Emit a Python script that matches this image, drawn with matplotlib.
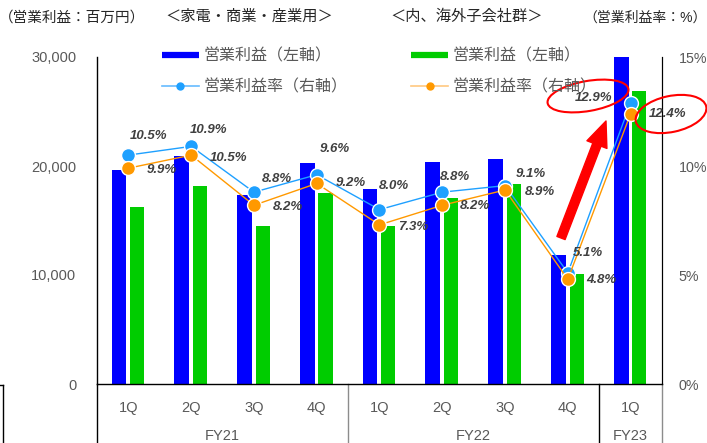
import matplotlib
matplotlib.use('Agg')
import matplotlib.pyplot as plt
import matplotlib.transforms as mtransforms
from matplotlib.patches import Ellipse
from matplotlib.lines import Line2D
import numpy as np

plt.rcParams['font.family'] = ['Liberation Sans', 'Noto Sans CJK JP', 'DejaVu Sans']

# ---- data ----
quarters = ['1Q', '2Q', '3Q', '4Q', '1Q', '2Q', '3Q', '4Q', '1Q']
fiscal_years = ['FY21', 'FY22', 'FY23']
fy_first = [0, 4, 8]
fy_last = [3, 7, 8]
profit_total = [19600, 20900, 17350, 20250, 17850, 20350, 20600, 11850, 30000]
profit_overseas = [16250, 18150, 14500, 17550, 14450, 17100, 18350, 10100, 26900]
margin_total = [10.5, 10.9, 8.8, 9.6, 8.0, 8.8, 9.1, 5.1, 12.9]
margin_overseas = [9.9, 10.5, 8.2, 9.2, 7.3, 8.2, 8.9, 4.8, 12.4]
left_ticks = [0, 10000, 20000, 30000]
right_ticks = [0, 5, 10, 15]

# label offsets (pixels)
off_total = [(20, 19), (17, 16), (23, 13), (18, 26), (14, 24), (13, 15), (26, 12), (20, 20), (-37, 5)]
off_overseas = [(33, -2), (37, -3), (34, -2), (34, 0), (34, -2), (33, -1), (35, -2), (33, -1), (37, 0)]

W, H = 707, 443
fig = plt.figure(figsize=(W / 100, H / 100), dpi=100)
ax = fig.add_axes([97 / W, 59 / H, 565 / W, 327 / H])
ax2 = ax.twinx()

x = np.arange(len(quarters))
BLUE = '#0000FF'
GREEN = '#00CC00'
LBLUE = '#1EA0FF'
ORANGE = '#FF9900'
GRAYTXT = '#595959'

ax.bar(x - 0.15, profit_total, width=0.235, color=BLUE, zorder=2)
ax.bar(x + 0.14, profit_overseas, width=0.225, color=GREEN, zorder=2)
ax.set_xlim(-0.5, len(quarters) - 0.5)
ax.set_ylim(0, 30000)
ax.set_yticks(left_ticks)
ax.set_yticklabels([f'{v:,}' for v in left_ticks])
ax.set_xticks(x)
ax.set_xticklabels(quarters)
ax.tick_params(axis='both', length=0, labelsize=10.5, labelcolor=GRAYTXT)
ax.tick_params(axis='y', pad=15)
ax.tick_params(axis='x', pad=12)

ax2.plot(x, margin_total, color=LBLUE, lw=1, marker='o', ms=10, mfc=LBLUE, mec='white', mew=1, zorder=3)
ax2.plot(x, margin_overseas, color=ORANGE, lw=1, marker='o', ms=10, mfc=ORANGE, mec='white', mew=1, zorder=4)
ax2.set_ylim(0, 15)
ax2.set_yticks(right_ticks)
ax2.set_yticklabels([f'{v}%' for v in right_ticks])
ax2.tick_params(axis='y', length=0, pad=12, labelsize=10.3, labelcolor=GRAYTXT)

lab_kw = dict(textcoords='offset pixels', ha='center', va='center', fontsize=9.5,
              fontweight='bold', style='italic', color='#404040', family='Liberation Sans', zorder=6)
for i, v in enumerate(margin_total):
    ax2.annotate(f'{v:.1f}%', (x[i], v), xytext=off_total[i], **lab_kw)
for i, v in enumerate(margin_overseas):
    ax2.annotate(f'{v:.1f}%', (x[i], v), xytext=off_overseas[i], **lab_kw)

for a in (ax, ax2):
    a.spines['top'].set_visible(False)
for s in ('left', 'bottom'):
    ax.spines[s].set_color('black')
    ax.spines[s].set_linewidth(1)
ax2.spines['right'].set_color('black')
ax2.spines['left'].set_visible(False)
ax2.spines['bottom'].set_visible(False)

# category group separators below axis
tr = ax.get_xaxis_transform()
ybot = -59 / 327
for xs, c in [(-0.5, 'black'), (3.5, '#8c8c8c'), (7.5, 'black'), (8.5, '#8c8c8c')]:
    ax.plot([xs, xs], [0, ybot], color=c, lw=1, transform=tr, clip_on=False)
for name, a0, a1 in zip(fiscal_years, fy_first, fy_last):
    ax.text((a0 + a1) / 2, -52 / 327, name, transform=tr, ha='center', va='center',
            fontsize=10.5, color=GRAYTXT)

# stray box edge bottom-left
fig.add_artist(Line2D([0, 3 / W], [58 / H, 58 / H], color='black', lw=1))
fig.add_artist(Line2D([3 / W, 3 / W], [58 / H, 0], color='black', lw=1))

# header texts
def ftext(px, py, s, size=10.5):
    fig.text(px / W, 1 - py / H, s, ha='center', va='center', fontsize=size, color='#262626')

ftext(72, 18, '（営業利益：百万円）')
ftext(249, 17, '＜家電・商業・産業用＞', 11)
ftext(467, 17, '＜内、海外子会社群＞', 11)
ftext(645, 18, '（営業利益率：%）', 10)

# legend
handles = [
    Line2D([], [], color=BLUE, lw=4.5, solid_capstyle='butt'),
    Line2D([], [], color='#66BBFF', lw=1.2, marker='o', ms=5, mfc=LBLUE, mec=LBLUE),
    Line2D([], [], color=GREEN, lw=4.5, solid_capstyle='butt'),
    Line2D([], [], color='#FFC880', lw=1.2, marker='o', ms=5, mfc=ORANGE, mec=ORANGE),
]
labels = ['営業利益（左軸）', '営業利益率（右軸）', '営業利益（左軸）', '営業利益率（右軸）']
leg = fig.legend(handles, labels, ncol=2, loc='upper left', bbox_to_anchor=(162 / W, 1 - 48 / H),
                 frameon=False, borderpad=0, borderaxespad=0, handlelength=2.3, handletextpad=0.3,
                 columnspacing=4.0, labelspacing=1.0, fontsize=11.5)
for t in leg.get_texts():
    t.set_color(GRAYTXT)

# red annotations
ident = mtransforms.IdentityTransform()
fig.add_artist(Ellipse((588, H - 96), 82, 30, angle=10, fill=False, ec='red', lw=1.5, transform=ident))
fig.add_artist(Ellipse((671, H - 114), 72, 36, angle=12, fill=False, ec='red', lw=1.5, transform=ident))
ax.annotate('', xy=(606, H - 121), xytext=(561, H - 238), xycoords='figure pixels',
            textcoords='figure pixels',
            arrowprops=dict(arrowstyle='simple,head_length=1.3,head_width=1.1,tail_width=0.45',
                            color='red', shrinkA=0, shrinkB=0, mutation_scale=14))

fig.savefig('out.png', dpi=100)
